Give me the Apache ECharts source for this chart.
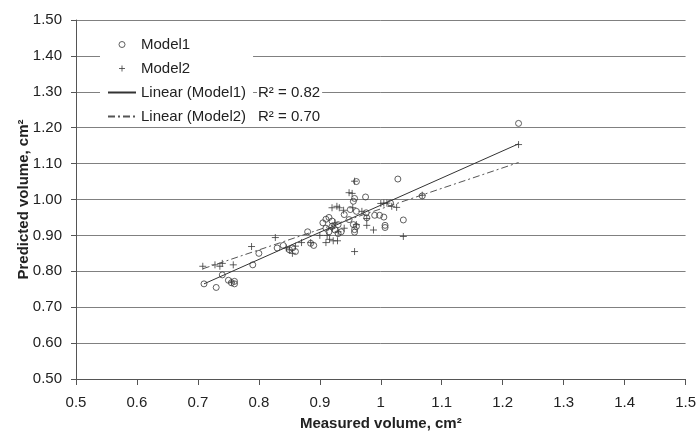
<!DOCTYPE html>
<html>
<head>
<meta charset="utf-8">
<script src="https://cdn.jsdelivr.net/npm/echarts@6/dist/echarts.min.js"></script>
<style>
  html, body { margin: 0; padding: 0; background: #fff; }
  #chart { width: 699px; height: 436px; }
</style>
</head>
<body>
<div id="chart"></div>
<script>
  // 数据：估计值 [measured, predicted]
  var model1 = [
    [0.71, 0.765], [0.73, 0.755], [0.74, 0.79], [0.75, 0.775], [0.755, 0.768], [0.76, 0.772], [0.76, 0.765],
    [0.79, 0.818], [0.80, 0.85], [0.83, 0.865], [0.84, 0.872], [0.85, 0.86], [0.86, 0.855], [0.855, 0.865],
    [0.88, 0.91], [0.885, 0.878], [0.89, 0.872],
    [0.905, 0.935], [0.91, 0.945], [0.915, 0.95], [0.92, 0.94], [0.91, 0.92], [0.92, 0.925], [0.925, 0.915],
    [0.93, 0.93], [0.935, 0.91], [0.93, 0.905], [0.915, 0.91],
    [0.94, 0.958], [0.948, 0.944], [0.95, 0.972], [0.955, 0.93], [0.96, 0.925], [0.957, 0.916], [0.96, 0.967],
    [0.955, 0.995], [0.957, 1.003], [0.96, 1.05], [0.957, 0.909],
    [0.975, 1.007], [0.976, 0.963], [0.977, 0.949], [0.99, 0.956], [0.998, 0.956], [1.005, 0.951],
    [1.007, 0.928], [1.007, 0.922], [1.016, 0.99], [1.028, 1.057], [1.037, 0.943], [1.068, 1.01], [1.226, 1.212]
  ];
  var model2 = [
    [0.708, 0.814], [0.728, 0.818], [0.736, 0.814], [0.74, 0.822], [0.758, 0.818], [0.755, 0.77],
    [0.788, 0.869], [0.827, 0.894], [0.85, 0.86], [0.855, 0.85], [0.86, 0.87], [0.845, 0.865],
    [0.87, 0.88], [0.885, 0.88], [0.9, 0.9], [0.912, 0.9], [0.91, 0.88], [0.916, 0.889], [0.922, 0.885],
    [0.929, 0.885], [0.92, 0.92], [0.93, 0.91], [0.925, 0.935], [0.94, 0.92],
    [0.92, 0.977], [0.928, 0.981], [0.932, 0.977], [0.939, 0.97], [0.948, 1.019], [0.953, 1.017],
    [0.954, 0.977], [0.957, 1.051], [0.957, 0.855], [0.96, 0.93], [0.969, 0.967],
    [0.977, 0.947], [0.977, 0.928], [0.988, 0.915], [1.0, 0.989], [1.005, 0.99], [1.01, 0.99],
    [1.018, 0.981], [1.026, 0.978], [1.037, 0.897], [1.068, 1.012], [1.226, 1.153]
  ];
  // 趋势线端点（图中读出）
  var trend1 = [[0.71, 0.765], [1.226, 1.155]];
  var trend2 = [[0.708, 0.807], [1.226, 1.103]];
  var r2Labels = ['R² = 0.82', 'R² = 0.70'];

  var font = 'Liberation Sans, Arial, sans-serif';
  var plusPath = 'path://M5,0L5,10M0,5L10,5';
  var ptColor = '#3a3a3a';
  var dashDot = [7, 3, 2, 3];

  var myChart = echarts.init(document.getElementById('chart'));
  myChart.setOption({
    animation: false,
    backgroundColor: '#fff',
    grid: { left: 76, right: 7, top: 20, bottom: 56 },
    xAxis: {
      type: 'value',
      min: 0.5, max: 1.5, interval: 0.1,
      name: 'Measured volume, cm²',
      nameLocation: 'middle',
      nameGap: 37,
      nameTextStyle: { fontFamily: font, fontSize: 15, fontWeight: 'bold', color: '#222' },
      axisLine: { lineStyle: { color: '#555', width: 1 } },
      axisTick: { show: true, length: 6, lineStyle: { color: '#555' } },
      axisLabel: { fontFamily: font, fontSize: 15, color: '#222', margin: 16 },
      splitLine: { show: false }
    },
    yAxis: {
      type: 'value',
      min: 0.5, max: 1.5, interval: 0.1,
      name: 'Predicted volume, cm²',
      nameLocation: 'middle',
      nameGap: 45,
      nameMoveOverlap: false,
      nameTextStyle: { fontFamily: font, fontSize: 15, fontWeight: 'bold', color: '#222' },
      axisLine: { show: true, lineStyle: { color: '#555', width: 1 } },
      axisTick: { show: true, length: 5, lineStyle: { color: '#555' } },
      axisLabel: {
        fontFamily: font, fontSize: 15, color: '#222', margin: 14,
        formatter: function (v) { return v.toFixed(2); }
      },
      splitLine: { show: true, lineStyle: { color: '#808080', width: 1 } }
    },
    legend: {
      orient: 'vertical',
      left: 100,
      top: 32,
      backgroundColor: '#fff',
      padding: [4, 7, 1, 7],
      itemWidth: 28,
      itemHeight: 6,
      itemGap: 7,
      textStyle: { fontFamily: font, fontSize: 15, color: '#222', lineHeight: 17 },
      data: [
        { name: 'Model1', icon: 'circle', itemStyle: { color: 'transparent', borderColor: ptColor, borderWidth: 1 } },
        { name: 'Model2', icon: plusPath, itemStyle: { color: 'transparent', borderColor: ptColor, borderWidth: 1 } },
        { name: 'Linear (Model1)', itemStyle: { opacity: 0 } },
        { name: 'Linear (Model2)', itemStyle: { opacity: 0 } }
      ]
    },
    graphic: [
      {
        type: 'text', left: 257, top: 85, z: 10,
        style: { text: r2Labels[0], font: '15px ' + font, fill: '#222', backgroundColor: '#fff', padding: [0, 2, 0, 1] }
      },
      {
        type: 'text', left: 257, top: 109, z: 10,
        style: { text: r2Labels[1], font: '15px ' + font, fill: '#222', backgroundColor: '#fff', padding: [0, 2, 0, 1] }
      }
    ],
    series: [
      {
        name: 'Model1',
        type: 'scatter',
        data: model1,
        symbol: 'circle',
        symbolSize: 6,
        itemStyle: { color: 'transparent', borderColor: ptColor, borderWidth: 1 }
      },
      {
        name: 'Model2',
        type: 'scatter',
        data: model2,
        symbol: plusPath,
        symbolSize: 7,
        itemStyle: { color: 'transparent', borderColor: ptColor, borderWidth: 1 }
      },
      {
        name: 'Linear (Model1)',
        type: 'line',
        data: trend1,
        symbol: 'none',
        lineStyle: { color: '#333', width: 1, type: 'solid' }
      },
      {
        name: 'Linear (Model2)',
        type: 'line',
        data: trend2,
        symbol: 'none',
        lineStyle: { color: '#555', width: 1, type: dashDot }
      }
    ]
  });
</script>
</body>
</html>
